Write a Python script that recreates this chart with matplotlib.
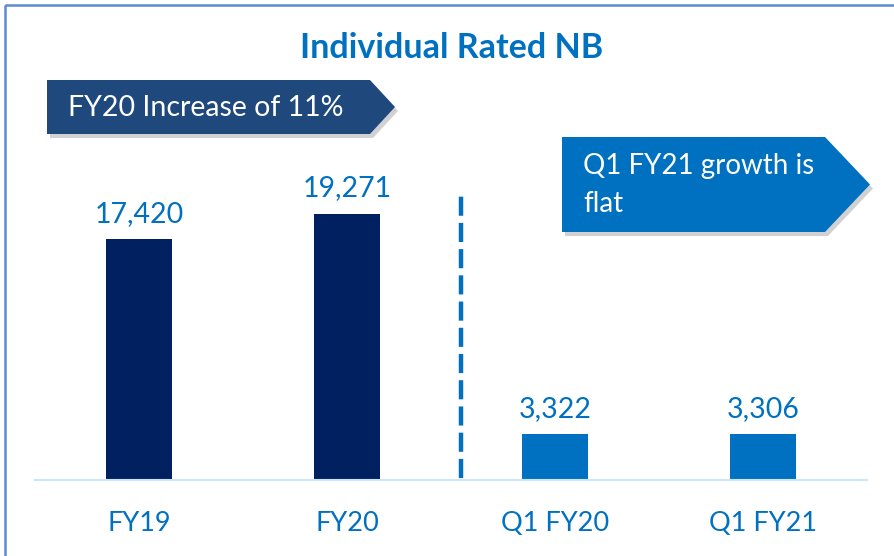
import matplotlib.pyplot as plt
from matplotlib.patches import Polygon, Rectangle

categories = ["FY19", "FY20", "Q1 FY20", "Q1 FY21"]
values = [17420, 19271, 3322, 3306]
bar_colors = ["#002060", "#002060", "#0070C0", "#0070C0"]
value_labels = ["17,420", "19,271", "3,322", "3,306"]

BLUE = "#0070C0"
FONT = "Lato"

fig = plt.figure(figsize=(8.95, 5.56), dpi=100)
W, H = 895, 556

# main bar axes, placed in pixel terms
left, right, bottom, top = 35, 867, 480, 100
ax = fig.add_axes([left / W, 1 - bottom / H, (right - left) / W, (bottom - top) / H])
x = range(len(categories))
ax.bar(x, values, width=0.32, color=bar_colors, zorder=2)
for i, (v, lab) in enumerate(zip(values, value_labels)):
    ax.annotate(lab, (i, v), xytext=(0, 9), textcoords="offset points",
                ha="center", va="bottom", fontsize=20.5, color=BLUE, family=FONT)
ax.set_xlim(-0.5, 3.5)
ax.set_ylim(0, 27500)
ax.set_xticks(list(x))
ax.set_xticklabels(categories, fontsize=19.5, color=BLUE, family=FONT)
ax.tick_params(axis="x", length=0, pad=22)
ax.set_yticks([])
for s in ["top", "right", "left"]:
    ax.spines[s].set_visible(False)
ax.spines["bottom"].set_color("#CDE6F7")
ax.spines["bottom"].set_linewidth(1.5)

# dashed divider between annual and quarterly bars
ax.plot([1.55, 1.55], [180, 20700], color=BLUE, lw=3.2, ls=(0, (4.3, 1.6)), zorder=1)

# overlay axes in pixel coordinates for frame, title and callouts
ov = fig.add_axes([0, 0, 1, 1], zorder=5)
ov.set_xlim(0, W)
ov.set_ylim(H, 0)
ov.axis("off")
ov.patch.set_alpha(0)

ov.add_patch(Rectangle((5, 5), W + 20, H + 20, fill=False, ec="#5B8BD0", lw=1.8))

ov.text(452, 48, "Individual Rated NB", ha="center", va="center",
        fontsize=24.5, fontweight="bold", color=BLUE, family=FONT)


def callout(x0, y0, x1, y1, tip, color, text, ty, fs, ls=1.2):
    ym = (y0 + y1) / 2
    shadow = [(x0 + 3, y0 + 4), (x1 + 3, y0 + 4), (tip + 3, ym + 4),
              (x1 + 3, y1 + 4), (x0 + 3, y1 + 4)]
    ov.add_patch(Polygon(shadow, closed=True, fc="#000000", alpha=0.18, ec="none"))
    pts = [(x0, y0), (x1, y0), (tip, ym), (x1, y1), (x0, y1)]
    ov.add_patch(Polygon(pts, closed=True, fc=color, ec="none"))
    ov.text(x0 + 21, ty, text, ha="left", va="center", fontsize=fs,
            color="white", family=FONT, linespacing=ls)


callout(47, 80, 370, 134, 395, "#1F497D", "FY20 Increase of 11%", 108, 20.5)
callout(562, 137, 825, 232, 870, BLUE, "Q1 FY21 growth is\nflat", 185, 20, ls=1.55)

fig.savefig("out.png", dpi=100)
